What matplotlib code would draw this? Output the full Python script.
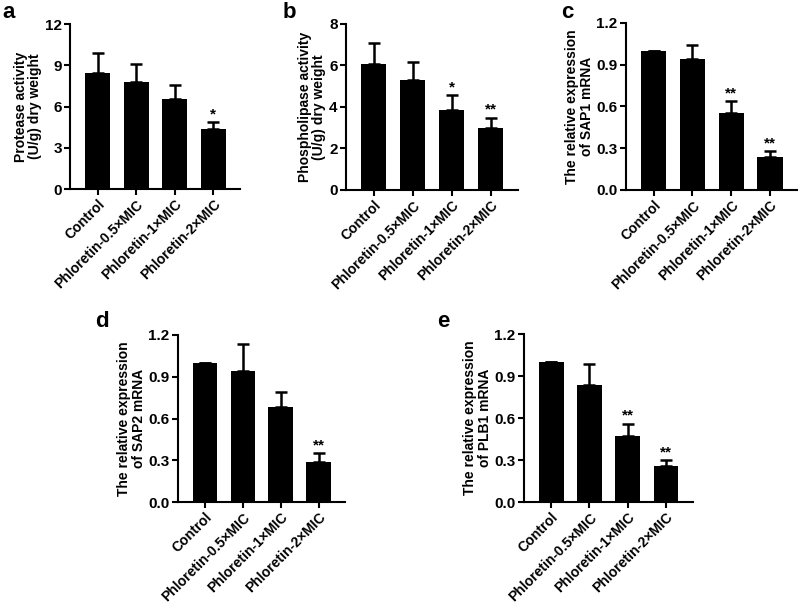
import matplotlib
matplotlib.use("Agg")
from matplotlib import pyplot as plt

plt.rcParams["font.family"] = ["Liberation Sans", "DejaVu Sans"]
plt.rcParams["font.weight"] = "bold"

groups = ["Control", "Phloretin-0.5×MIC", "Phloretin-1×MIC", "Phloretin-2×MIC"]

protease = [8.42, 7.81, 6.58, 4.38]
protease_err = [1.5, 1.29, 0.99, 0.48]
protease_sig = ["", "", "", "*"]

phospholipase = [6.09, 5.28, 3.86, 2.98]
phospholipase_err = [1.0, 0.9, 0.7, 0.5]
phospholipase_sig = ["", "", "*", "**"]

sap1 = [1.0, 0.94, 0.55, 0.237]
sap1_err = [0.0, 0.10, 0.09, 0.043]
sap1_sig = ["", "", "**", "**"]

sap2 = [1.0, 0.943, 0.68, 0.29]
sap2_err = [0.0, 0.19, 0.11, 0.06]
sap2_sig = ["", "", "", "**"]

plb1 = [1.0, 0.835, 0.47, 0.256]
plb1_err = [0.0, 0.153, 0.09, 0.041]
plb1_sig = ["", "", "**", "**"]

# letter, values, errors, stars, ylabel, yticks, ytick labels, axes box, letter position (px)
panels = [
    ("a", protease, protease_err, protease_sig, "Protease activity\n(U/g) dry weight",
     [0, 3, 6, 9, 12], ["0", "3", "6", "9", "12"], [0.088, 0.688, 0.212, 0.272], (2, 18)),
    ("b", phospholipase, phospholipase_err, phospholipase_sig, "Phospholipase activity\n(U/g) dry weight",
     [0, 2, 4, 6, 8], ["0", "2", "4", "6", "8"], [0.4325, 0.6865, 0.215, 0.274], (283, 18)),
    ("c", sap1, sap1_err, sap1_sig, "The relative expression\nof SAP1 mRNA",
     [0, 0.3, 0.6, 0.9, 1.2], ["0.0", "0.3", "0.6", "0.9", "1.2"], [0.7825, 0.6865, 0.214, 0.2756], (561, 18)),
    ("d", sap2, sap2_err, sap2_sig, "The relative expression\nof SAP2 mRNA",
     [0, 0.3, 0.6, 0.9, 1.2], ["0.0", "0.3", "0.6", "0.9", "1.2"], [0.2225, 0.1716, 0.209, 0.2756], (95, 327)),
    ("e", plb1, plb1_err, plb1_sig, "The relative expression\nof PLB1 mRNA",
     [0, 0.3, 0.6, 0.9, 1.2], ["0.0", "0.3", "0.6", "0.9", "1.2"], [0.655, 0.1716, 0.211, 0.277], (437, 327)),
]

fig = plt.figure(figsize=(8, 6.06), dpi=100)

for letter, vals, errs, sig, ylabel, yt, ytl, pos, lpos in panels:
    ax = fig.add_axes(pos)
    x = range(len(groups))
    ax.bar(x, vals, width=0.65, color="black", zorder=2)
    ax.errorbar(x, vals, yerr=[[0] * len(errs), errs], fmt="none", ecolor="black",
                elinewidth=1.8, capsize=4, capthick=1.8, zorder=1)
    ymax = yt[-1]
    for i, s in enumerate(sig):
        if s:
            ax.text(i, vals[i] + errs[i] + ymax * 0.005, s, ha="center", va="bottom",
                    fontsize=11, fontweight="bold")
    ax.set_xlim(-0.71, 3.7)
    ax.set_ylim(0, ymax)
    ax.set_yticks(yt)
    ax.set_yticklabels(ytl, fontsize=11, fontweight="bold")
    ax.set_xticks(list(x))
    ax.set_xticklabels(groups, rotation=45, ha="right", rotation_mode="anchor",
                       fontsize=10.1, fontweight="bold")
    ax.set_ylabel(ylabel, fontsize=10, fontweight="bold", labelpad=2, linespacing=1.05)
    for side in ["top", "right"]:
        ax.spines[side].set_visible(False)
    for side in ["left", "bottom"]:
        ax.spines[side].set_linewidth(1.5)
    ax.tick_params(width=1.5, length=4, pad=2)
    fig.text(lpos[0] / 800, 1 - lpos[1] / 606, letter, fontsize=16, fontweight="bold",
             ha="left", va="baseline")

plt.savefig("out.png", dpi=100)
